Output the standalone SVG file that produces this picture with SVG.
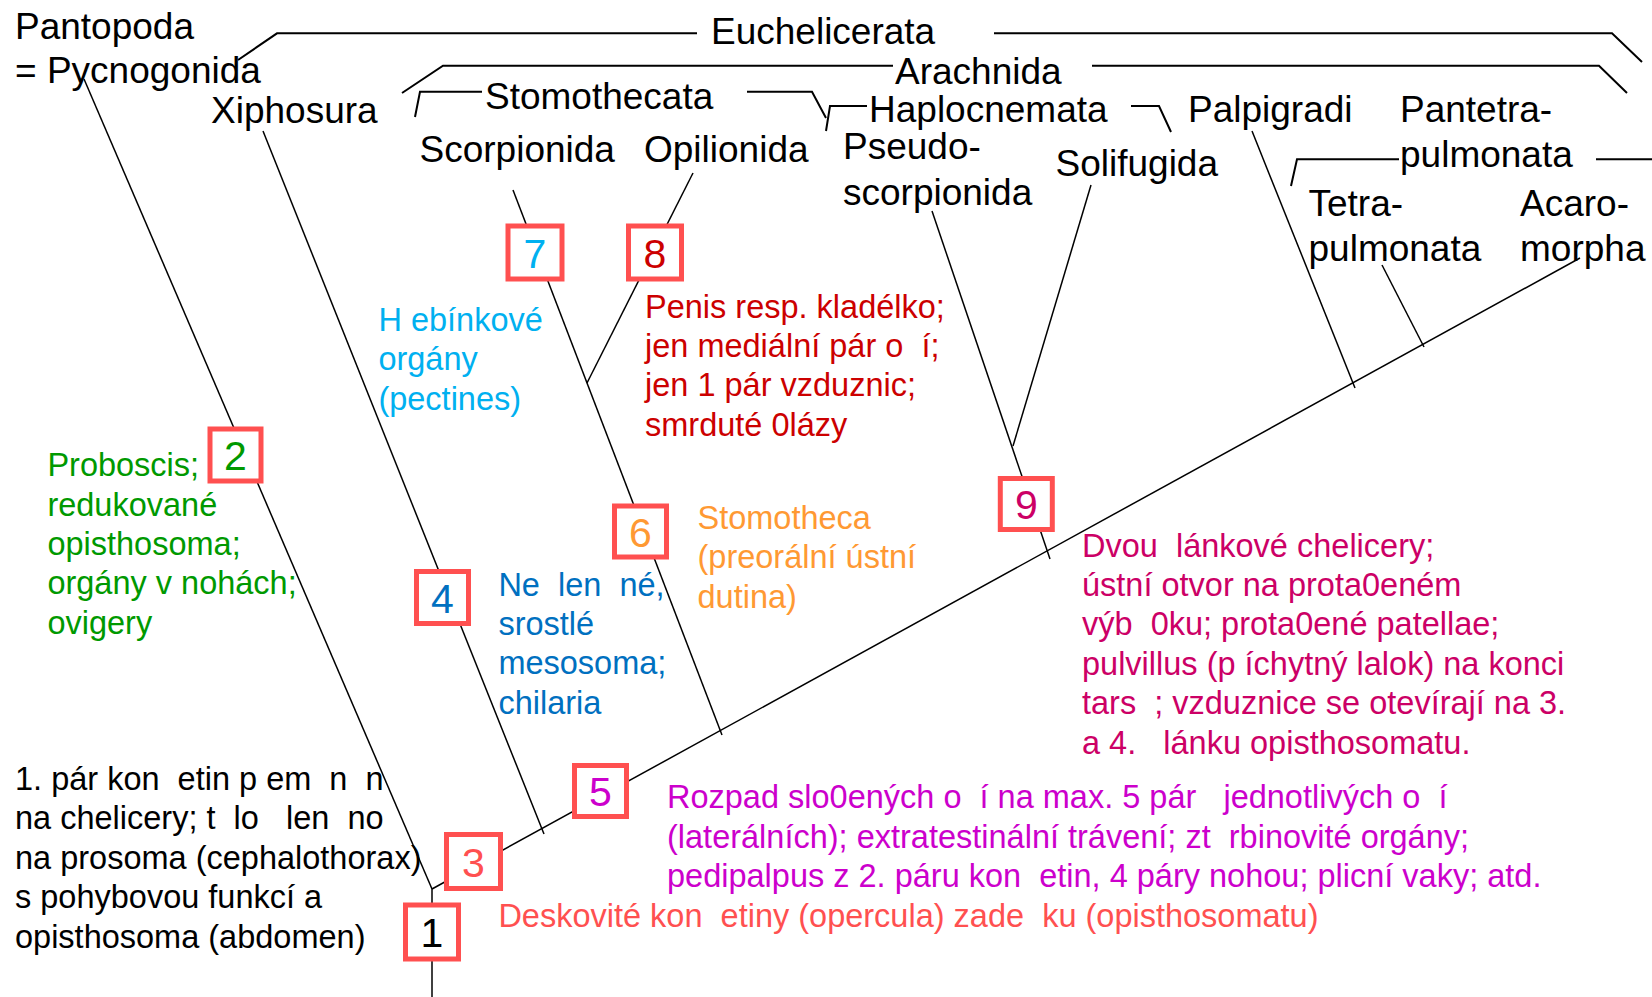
<svg xmlns="http://www.w3.org/2000/svg" width="1652" height="997" viewBox="0 0 1652 997">
<style>
text { font-family: "Liberation Sans", Arial, sans-serif; white-space: pre; }
.tx { font-size: 37px; fill: #000; }
.ann { font-size: 32.5px; }
.num { font-size: 41px; text-anchor: middle; }
.box { fill: #fff; stroke: #FF5050; stroke-width: 5; }
.ln { fill: none; stroke: #000; stroke-width: 1.5; stroke-linejoin: miter; }
.br { fill: none; stroke: #000; stroke-width: 2; }
.green { fill: #009900; } .cyan { fill: #00B0F0; } .dred { fill: #CC0000; }
.blue { fill: #0070C0; } .orange { fill: #FF9933; } .pink { fill: #CC0066; }
.mag { fill: #CC00CC; } .salmon { fill: #FF5050; } .black { fill: #000; }
</style>
<rect width="1652" height="997" fill="#fff"/>
<g id="connectors">
  <line class="ln" x1="432" y1="997" x2="432" y2="889"/>
  <line class="ln" x1="84" y1="79" x2="432" y2="889"/>
  <line class="ln" x1="432" y1="889" x2="1580" y2="258"/>
  <line class="ln" x1="263" y1="131" x2="544" y2="834"/>
  <line class="ln" x1="513" y1="190" x2="722" y2="735"/>
  <line class="ln" x1="693" y1="173" x2="587" y2="383" stroke-width="2.5"/>
  <line class="ln" x1="932" y1="211" x2="1050" y2="559"/>
  <line class="ln" x1="1091" y1="185" x2="1013" y2="446"/>
  <line class="ln" x1="1252" y1="131" x2="1355" y2="388"/>
  <line class="ln" x1="1382" y1="265" x2="1424" y2="347"/>
  <polyline class="br" points="238,60 277,33.3 697,33.3"/>
  <polyline class="br" points="994,33.3 1612,33.3 1642,62"/>
  <polyline class="br" points="402,93 443,65.7 893,65.7"/>
  <polyline class="br" points="1092,65.7 1599,65.7 1627,93"/>
  <polyline class="br" points="415,117 420,91.7 482,91.7"/>
  <polyline class="br" points="747,91.7 812,91.7 826,118"/>
  <polyline class="br" points="826,131 830,106 867,106"/>
  <polyline class="br" points="1131,106 1159,106 1171,132"/>
  <polyline class="br" points="1291,186 1297,159.3 1399,159.3"/>
  <line class="br" x1="1596" y1="159.3" x2="1652" y2="159.3"/>
</g>
<g id="box1"><rect class="box" x="405.5" y="905" width="53" height="54"/><text class="num black" x="432" y="947">1</text></g>
<g id="box2"><rect class="box" x="210" y="429" width="51" height="52"/><text class="num green" x="235.5" y="470">2</text></g>
<g id="box3"><rect class="box" x="446.5" y="834.5" width="54" height="54"/><text class="num salmon" x="473.5" y="877">3</text></g>
<g id="box4"><rect class="box" x="416.5" y="571.5" width="52" height="52"/><text class="num blue" x="442.5" y="613">4</text></g>
<g id="box5"><rect class="box" x="574.5" y="765.5" width="52" height="51"/><text class="num mag" x="600.5" y="806">5</text></g>
<g id="box6"><rect class="box" x="614.5" y="506" width="52" height="51"/><text class="num orange" x="640.5" y="547">6</text></g>
<g id="box7"><rect class="box" x="508" y="226" width="54" height="53"/><text class="num cyan" x="535" y="268">7</text></g>
<g id="box8"><rect class="box" x="628.5" y="226" width="53" height="53"/><text class="num dred" x="655" y="268">8</text></g>
<g id="box9"><rect class="box" x="1000.3" y="478.5" width="52" height="51"/><text class="num pink" x="1026.3" y="519">9</text></g>
<g id="labels">
  <g id="pantopoda"><text class="tx" x="15" y="39">Pantopoda</text><text class="tx" x="15" y="83">= Pycnogonida</text></g>
  <g id="euchelicerata"><text class="tx" x="711" y="43.5">Euchelicerata</text></g>
  <g id="arachnida"><text class="tx" x="895" y="83.5">Arachnida</text></g>
  <g id="xiphosura"><text class="tx" x="211" y="123">Xiphosura</text></g>
  <g id="stomothecata"><text class="tx" x="485" y="109">Stomothecata</text></g>
  <g id="haplocnemata"><text class="tx" x="869" y="121.5">Haplocnemata</text></g>
  <g id="palpigradi"><text class="tx" x="1188" y="121.5">Palpigradi</text></g>
  <g id="pantetrapulmonata"><text class="tx" x="1400" y="121.5">Pantetra-</text><text class="tx" x="1400" y="167">pulmonata</text></g>
  <g id="scorpionida"><text class="tx" x="419.5" y="162">Scorpionida</text></g>
  <g id="opilionida"><text class="tx" x="644" y="162">Opilionida</text></g>
  <g id="pseudoscorpionida"><text class="tx" x="843" y="159">Pseudo-</text><text class="tx" x="843" y="205">scorpionida</text></g>
  <g id="solifugida"><text class="tx" x="1055.5" y="176">Solifugida</text></g>
  <g id="tetrapulmonata"><text class="tx" x="1308.5" y="215.5">Tetra-</text><text class="tx" x="1308.5" y="260.5">pulmonata</text></g>
  <g id="acaromorpha"><text class="tx" x="1520" y="215.5">Acaro-</text><text class="tx" x="1520" y="260.5">morpha</text></g>
</g>
<g id="annotations">
  <g id="ann1" class="ann black">
    <text x="15" y="790">1. pár kon  etin p em  n  n</text>
    <text x="15" y="829.4">na chelicery; t  lo   len  no</text>
    <text x="15" y="868.8">na prosoma (cephalothorax)</text>
    <text x="15" y="908.2">s pohybovou funkcí a</text>
    <text x="15" y="947.6">opisthosoma (abdomen)</text>
  </g>
  <g id="ann2" class="ann green">
    <text x="47.4" y="476.2">Proboscis;</text>
    <text x="47.4" y="515.6">redukované</text>
    <text x="47.4" y="555">opisthosoma;</text>
    <text x="47.4" y="594.4">orgány v nohách;</text>
    <text x="47.4" y="633.8">ovigery</text>
  </g>
  <g id="ann3" class="ann salmon"><text x="498.4" y="927.2">Deskovité kon  etiny (opercula) zade  ku (opisthosomatu)</text></g>
  <g id="ann4" class="ann blue">
    <text x="498.4" y="595.5">Ne  len  né,</text>
    <text x="498.4" y="634.9">srostlé</text>
    <text x="498.4" y="674.3">mesosoma;</text>
    <text x="498.4" y="713.7">chilaria</text>
  </g>
  <g id="ann5" class="ann mag">
    <text x="667" y="808.1">Rozpad slo0ených o  í na max. 5 pár   jednotlivých o  í</text>
    <text x="667" y="847.5">(laterálních); extratestinální trávení; zt  rbinovité orgány;</text>
    <text x="667" y="886.9">pedipalpus z 2. páru kon  etin, 4 páry nohou; plicní vaky; atd.</text>
  </g>
  <g id="ann6" class="ann orange">
    <text x="697.5" y="528.9">Stomotheca</text>
    <text x="697.5" y="568.3">(preorální ústní</text>
    <text x="697.5" y="607.7">dutina)</text>
  </g>
  <g id="ann7" class="ann cyan">
    <text x="378.4" y="331">H ebínkové</text>
    <text x="378.4" y="370.4">orgány</text>
    <text x="378.4" y="409.8">(pectines)</text>
  </g>
  <g id="ann8" class="ann dred">
    <text x="645" y="317.5">Penis resp. kladélko;</text>
    <text x="645" y="356.9">jen mediální pár o  í;</text>
    <text x="645" y="396.3">jen 1 pár vzduznic;</text>
    <text x="645" y="435.7">smrduté 0lázy</text>
  </g>
  <g id="ann9" class="ann pink">
    <text x="1082" y="556.5">Dvou  lánkové chelicery;</text>
    <text x="1082" y="595.9">ústní otvor na prota0eném</text>
    <text x="1082" y="635.3">výb  0ku; prota0ené patellae;</text>
    <text x="1082" y="674.7">pulvillus (p íchytný lalok) na konci</text>
    <text x="1082" y="714.1">tars  ; vzduznice se otevírají na 3.</text>
    <text x="1082" y="753.5">a 4.   lánku opisthosomatu.</text>
  </g>
</g>
</svg>
